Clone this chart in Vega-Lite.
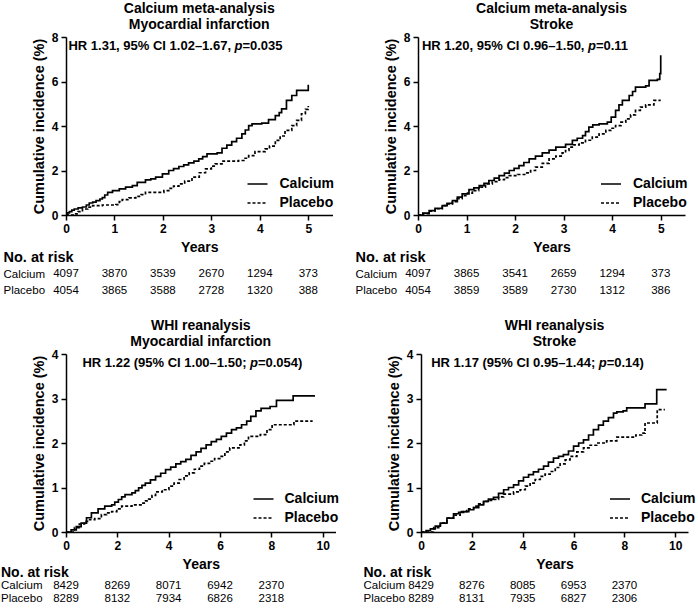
{
 "$schema": "https://vega.github.io/schema/vega-lite/v6.json",
 "background": "white",
 "padding": {"left": 0, "top": 2, "right": 0, "bottom": 0},
 "config": {
  "font": "Liberation Sans",
  "view": {"stroke": null},
  "text": {"color": "black", "font": "Liberation Sans"},
  "axis": {"domainColor": "black", "domainWidth": 1.5, "tickColor": "black", "tickWidth": 1.5, "tickSize": 5, "labelFontSize": 12, "labelFontWeight": "bold", "labelColor": "black", "labelPadding": 3, "titleFontSize": 14, "titleFontWeight": "bold", "titleColor": "black", "grid": false, "labelFont": "Liberation Sans", "titleFont": "Liberation Sans"},
  "axisY": {"titleFontSize": 14.5, "titlePadding": 5},
  "axisX": {"titlePadding": 6, "labelFlush": false},
  "title": {"fontSize": 14, "fontWeight": "bold", "lineHeight": 16, "offset": -1, "anchor": "middle", "frame": "group", "color": "black", "font": "Liberation Sans"},
  "legend": {"symbolType": "stroke", "symbolSize": 400, "symbolStrokeWidth": 1.7, "symbolStrokeColor": "black", "labelFontSize": 14, "labelFontWeight": "bold", "labelColor": "black", "rowPadding": 1, "labelFont": "Liberation Sans"}
 },
 "datasets": {
  "c1": [
   {"group":"Calcium","year":0,"value":0},{"group":"Calcium","year":0.03,"value":0.1},{"group":"Calcium","year":0.07,"value":0.15},{"group":"Calcium","year":0.12,"value":0.22},{"group":"Calcium","year":0.17,"value":0.27},{"group":"Calcium","year":0.25,"value":0.32},{"group":"Calcium","year":0.34,"value":0.36},{"group":"Calcium","year":0.42,"value":0.45},{"group":"Calcium","year":0.48,"value":0.54},{"group":"Calcium","year":0.55,"value":0.58},{"group":"Calcium","year":0.62,"value":0.65},{"group":"Calcium","year":0.7,"value":0.72},{"group":"Calcium","year":0.75,"value":0.78},{"group":"Calcium","year":0.8,"value":0.9},{"group":"Calcium","year":0.86,"value":1.02},{"group":"Calcium","year":0.96,"value":1.1},{"group":"Calcium","year":1.1,"value":1.17},{"group":"Calcium","year":1.23,"value":1.25},{"group":"Calcium","year":1.37,"value":1.32},{"group":"Calcium","year":1.47,"value":1.47},{"group":"Calcium","year":1.64,"value":1.58},{"group":"Calcium","year":1.75,"value":1.62},{"group":"Calcium","year":1.85,"value":1.7},{"group":"Calcium","year":1.99,"value":1.85},{"group":"Calcium","year":2.12,"value":2.0},{"group":"Calcium","year":2.22,"value":2.08},{"group":"Calcium","year":2.33,"value":2.18},{"group":"Calcium","year":2.43,"value":2.25},{"group":"Calcium","year":2.53,"value":2.34},{"group":"Calcium","year":2.64,"value":2.42},{"group":"Calcium","year":2.74,"value":2.52},{"group":"Calcium","year":2.82,"value":2.62},{"group":"Calcium","year":2.91,"value":2.75},{"group":"Calcium","year":3.12,"value":2.79},{"group":"Calcium","year":3.22,"value":3.0},{"group":"Calcium","year":3.32,"value":3.14},{"group":"Calcium","year":3.42,"value":3.3},{"group":"Calcium","year":3.52,"value":3.45},{"group":"Calcium","year":3.63,"value":3.65},{"group":"Calcium","year":3.7,"value":3.82},{"group":"Calcium","year":3.77,"value":4.02},{"group":"Calcium","year":3.84,"value":4.1},{"group":"Calcium","year":4.04,"value":4.13},{"group":"Calcium","year":4.18,"value":4.29},{"group":"Calcium","year":4.32,"value":4.47},{"group":"Calcium","year":4.4,"value":4.6},{"group":"Calcium","year":4.45,"value":4.77},{"group":"Calcium","year":4.55,"value":5.15},{"group":"Calcium","year":4.66,"value":5.37},{"group":"Calcium","year":4.76,"value":5.6},{"group":"Calcium","year":5.0,"value":5.85},
   {"group":"Placebo","year":0,"value":0},{"group":"Placebo","year":0.17,"value":0.05},{"group":"Placebo","year":0.25,"value":0.15},{"group":"Placebo","year":0.34,"value":0.27},{"group":"Placebo","year":0.45,"value":0.35},{"group":"Placebo","year":0.55,"value":0.42},{"group":"Placebo","year":0.75,"value":0.45},{"group":"Placebo","year":1.03,"value":0.47},{"group":"Placebo","year":1.1,"value":0.6},{"group":"Placebo","year":1.16,"value":0.69},{"group":"Placebo","year":1.3,"value":0.77},{"group":"Placebo","year":1.44,"value":0.84},{"group":"Placebo","year":1.55,"value":0.92},{"group":"Placebo","year":1.64,"value":1.02},{"group":"Placebo","year":1.92,"value":1.02},{"group":"Placebo","year":2.02,"value":1.1},{"group":"Placebo","year":2.12,"value":1.2},{"group":"Placebo","year":2.22,"value":1.3},{"group":"Placebo","year":2.33,"value":1.4},{"group":"Placebo","year":2.45,"value":1.52},{"group":"Placebo","year":2.6,"value":1.7},{"group":"Placebo","year":2.75,"value":1.9},{"group":"Placebo","year":2.88,"value":2.07},{"group":"Placebo","year":3.0,"value":2.2},{"group":"Placebo","year":3.08,"value":2.3},{"group":"Placebo","year":3.22,"value":2.42},{"group":"Placebo","year":3.56,"value":2.45},{"group":"Placebo","year":3.67,"value":2.55},{"group":"Placebo","year":3.77,"value":2.67},{"group":"Placebo","year":3.9,"value":2.85},{"group":"Placebo","year":4.11,"value":2.97},{"group":"Placebo","year":4.2,"value":3.1},{"group":"Placebo","year":4.32,"value":3.35},{"group":"Placebo","year":4.42,"value":3.55},{"group":"Placebo","year":4.52,"value":3.8},{"group":"Placebo","year":4.66,"value":4.02},{"group":"Placebo","year":4.76,"value":4.25},{"group":"Placebo","year":4.86,"value":4.55},{"group":"Placebo","year":4.94,"value":4.75},{"group":"Placebo","year":5.0,"value":4.9}
  ],
  "c2": [
   {"group":"Calcium","year":0,"value":0},{"group":"Calcium","year":0.1,"value":0.08},{"group":"Calcium","year":0.23,"value":0.2},{"group":"Calcium","year":0.35,"value":0.3},{"group":"Calcium","year":0.5,"value":0.42},{"group":"Calcium","year":0.6,"value":0.52},{"group":"Calcium","year":0.71,"value":0.65},{"group":"Calcium","year":0.81,"value":0.8},{"group":"Calcium","year":0.91,"value":0.95},{"group":"Calcium","year":1.05,"value":1.14},{"group":"Calcium","year":1.15,"value":1.22},{"group":"Calcium","year":1.26,"value":1.32},{"group":"Calcium","year":1.36,"value":1.42},{"group":"Calcium","year":1.46,"value":1.55},{"group":"Calcium","year":1.57,"value":1.66},{"group":"Calcium","year":1.67,"value":1.77},{"group":"Calcium","year":1.78,"value":1.88},{"group":"Calcium","year":1.88,"value":2.0},{"group":"Calcium","year":1.98,"value":2.1},{"group":"Calcium","year":2.08,"value":2.22},{"group":"Calcium","year":2.18,"value":2.36},{"group":"Calcium","year":2.29,"value":2.52},{"group":"Calcium","year":2.42,"value":2.65},{"group":"Calcium","year":2.56,"value":2.79},{"group":"Calcium","year":2.7,"value":2.92},{"group":"Calcium","year":2.84,"value":3.05},{"group":"Calcium","year":3.04,"value":3.17},{"group":"Calcium","year":3.18,"value":3.35},{"group":"Calcium","year":3.28,"value":3.45},{"group":"Calcium","year":3.39,"value":3.57},{"group":"Calcium","year":3.45,"value":3.75},{"group":"Calcium","year":3.52,"value":3.95},{"group":"Calcium","year":3.6,"value":4.05},{"group":"Calcium","year":3.73,"value":4.1},{"group":"Calcium","year":3.9,"value":4.17},{"group":"Calcium","year":3.98,"value":4.4},{"group":"Calcium","year":4.07,"value":4.7},{"group":"Calcium","year":4.14,"value":4.95},{"group":"Calcium","year":4.21,"value":5.15},{"group":"Calcium","year":4.35,"value":5.37},{"group":"Calcium","year":4.42,"value":5.55},{"group":"Calcium","year":4.48,"value":5.75},{"group":"Calcium","year":4.69,"value":5.8},{"group":"Calcium","year":4.76,"value":6.05},{"group":"Calcium","year":4.93,"value":6.1},{"group":"Calcium","year":4.98,"value":6.35},{"group":"Calcium","year":5.0,"value":7.18},
   {"group":"Placebo","year":0,"value":0},{"group":"Placebo","year":0.1,"value":0.06},{"group":"Placebo","year":0.23,"value":0.17},{"group":"Placebo","year":0.35,"value":0.28},{"group":"Placebo","year":0.5,"value":0.42},{"group":"Placebo","year":0.6,"value":0.5},{"group":"Placebo","year":0.71,"value":0.6},{"group":"Placebo","year":0.81,"value":0.73},{"group":"Placebo","year":0.91,"value":0.87},{"group":"Placebo","year":1.02,"value":0.98},{"group":"Placebo","year":1.12,"value":1.1},{"group":"Placebo","year":1.25,"value":1.25},{"group":"Placebo","year":1.39,"value":1.4},{"group":"Placebo","year":1.53,"value":1.5},{"group":"Placebo","year":1.67,"value":1.59},{"group":"Placebo","year":1.78,"value":1.68},{"group":"Placebo","year":1.88,"value":1.77},{"group":"Placebo","year":2.05,"value":1.82},{"group":"Placebo","year":2.22,"value":1.89},{"group":"Placebo","year":2.32,"value":2.0},{"group":"Placebo","year":2.42,"value":2.15},{"group":"Placebo","year":2.56,"value":2.32},{"group":"Placebo","year":2.7,"value":2.52},{"group":"Placebo","year":2.84,"value":2.65},{"group":"Placebo","year":2.97,"value":2.79},{"group":"Placebo","year":3.04,"value":2.9},{"group":"Placebo","year":3.11,"value":3.05},{"group":"Placebo","year":3.2,"value":3.15},{"group":"Placebo","year":3.32,"value":3.24},{"group":"Placebo","year":3.45,"value":3.36},{"group":"Placebo","year":3.59,"value":3.5},{"group":"Placebo","year":3.73,"value":3.65},{"group":"Placebo","year":3.87,"value":3.8},{"group":"Placebo","year":3.97,"value":3.9},{"group":"Placebo","year":4.07,"value":4.02},{"group":"Placebo","year":4.18,"value":4.17},{"group":"Placebo","year":4.28,"value":4.32},{"group":"Placebo","year":4.38,"value":4.5},{"group":"Placebo","year":4.48,"value":4.7},{"group":"Placebo","year":4.58,"value":4.85},{"group":"Placebo","year":4.69,"value":4.95},{"group":"Placebo","year":4.86,"value":5.15},{"group":"Placebo","year":5.0,"value":5.15}
  ],
  "c3": [
   {"group":"Calcium","year":0,"value":0},{"group":"Calcium","year":0.2,"value":0.05},{"group":"Calcium","year":0.4,"value":0.12},{"group":"Calcium","year":0.59,"value":0.2},{"group":"Calcium","year":0.8,"value":0.32},{"group":"Calcium","year":0.99,"value":0.43},{"group":"Calcium","year":1.25,"value":0.52},{"group":"Calcium","year":1.51,"value":0.58},{"group":"Calcium","year":1.78,"value":0.61},{"group":"Calcium","year":1.9,"value":0.67},{"group":"Calcium","year":2.04,"value":0.73},{"group":"Calcium","year":2.17,"value":0.79},{"group":"Calcium","year":2.3,"value":0.84},{"group":"Calcium","year":2.57,"value":0.88},{"group":"Calcium","year":2.7,"value":0.93},{"group":"Calcium","year":2.83,"value":0.99},{"group":"Calcium","year":2.96,"value":1.05},{"group":"Calcium","year":3.09,"value":1.1},{"group":"Calcium","year":3.29,"value":1.17},{"group":"Calcium","year":3.49,"value":1.25},{"group":"Calcium","year":3.69,"value":1.32},{"group":"Calcium","year":3.88,"value":1.4},{"group":"Calcium","year":4.08,"value":1.46},{"group":"Calcium","year":4.28,"value":1.53},{"group":"Calcium","year":4.47,"value":1.58},{"group":"Calcium","year":4.67,"value":1.63},{"group":"Calcium","year":4.87,"value":1.72},{"group":"Calcium","year":5.07,"value":1.8},{"group":"Calcium","year":5.26,"value":1.88},{"group":"Calcium","year":5.46,"value":1.96},{"group":"Calcium","year":5.66,"value":2.03},{"group":"Calcium","year":5.86,"value":2.08},{"group":"Calcium","year":6.05,"value":2.15},{"group":"Calcium","year":6.25,"value":2.22},{"group":"Calcium","year":6.45,"value":2.3},{"group":"Calcium","year":6.64,"value":2.34},{"group":"Calcium","year":6.84,"value":2.41},{"group":"Calcium","year":7.04,"value":2.49},{"group":"Calcium","year":7.2,"value":2.6},{"group":"Calcium","year":7.4,"value":2.72},{"group":"Calcium","year":7.6,"value":2.78},{"group":"Calcium","year":7.95,"value":2.82},{"group":"Calcium","year":8.2,"value":2.96},{"group":"Calcium","year":8.85,"value":3.06},{"group":"Calcium","year":9.7,"value":3.06},
   {"group":"Placebo","year":0,"value":0},{"group":"Placebo","year":0.33,"value":0.1},{"group":"Placebo","year":0.52,"value":0.18},{"group":"Placebo","year":0.72,"value":0.24},{"group":"Placebo","year":0.92,"value":0.28},{"group":"Placebo","year":1.12,"value":0.3},{"group":"Placebo","year":1.38,"value":0.39},{"group":"Placebo","year":1.58,"value":0.43},{"group":"Placebo","year":1.78,"value":0.46},{"group":"Placebo","year":1.98,"value":0.52},{"group":"Placebo","year":2.17,"value":0.58},{"group":"Placebo","year":2.57,"value":0.61},{"group":"Placebo","year":2.96,"value":0.65},{"group":"Placebo","year":3.1,"value":0.7},{"group":"Placebo","year":3.22,"value":0.74},{"group":"Placebo","year":3.35,"value":0.82},{"group":"Placebo","year":3.49,"value":0.9},{"group":"Placebo","year":3.75,"value":0.95},{"group":"Placebo","year":4.01,"value":1.03},{"group":"Placebo","year":4.21,"value":1.1},{"group":"Placebo","year":4.41,"value":1.18},{"group":"Placebo","year":4.6,"value":1.26},{"group":"Placebo","year":4.8,"value":1.33},{"group":"Placebo","year":5.0,"value":1.41},{"group":"Placebo","year":5.2,"value":1.48},{"group":"Placebo","year":5.39,"value":1.54},{"group":"Placebo","year":5.59,"value":1.59},{"group":"Placebo","year":5.79,"value":1.65},{"group":"Placebo","year":5.99,"value":1.7},{"group":"Placebo","year":6.19,"value":1.8},{"group":"Placebo","year":6.38,"value":1.89},{"group":"Placebo","year":6.78,"value":1.96},{"group":"Placebo","year":6.95,"value":2.05},{"group":"Placebo","year":7.11,"value":2.15},{"group":"Placebo","year":7.57,"value":2.19},{"group":"Placebo","year":7.83,"value":2.3},{"group":"Placebo","year":8.03,"value":2.41},{"group":"Placebo","year":8.75,"value":2.41},{"group":"Placebo","year":8.88,"value":2.49},{"group":"Placebo","year":9.61,"value":2.49}
  ],
  "c4": [
   {"group":"Calcium","year":0,"value":0},{"group":"Calcium","year":0.2,"value":0.03},{"group":"Calcium","year":0.37,"value":0.07},{"group":"Calcium","year":0.56,"value":0.13},{"group":"Calcium","year":0.76,"value":0.2},{"group":"Calcium","year":1.02,"value":0.31},{"group":"Calcium","year":1.28,"value":0.41},{"group":"Calcium","year":1.48,"value":0.44},{"group":"Calcium","year":1.68,"value":0.46},{"group":"Calcium","year":1.88,"value":0.5},{"group":"Calcium","year":2.07,"value":0.55},{"group":"Calcium","year":2.27,"value":0.61},{"group":"Calcium","year":2.46,"value":0.69},{"group":"Calcium","year":2.65,"value":0.74},{"group":"Calcium","year":2.85,"value":0.78},{"group":"Calcium","year":3.05,"value":0.87},{"group":"Calcium","year":3.25,"value":0.95},{"group":"Calcium","year":3.44,"value":1.0},{"group":"Calcium","year":3.64,"value":1.06},{"group":"Calcium","year":3.84,"value":1.15},{"group":"Calcium","year":4.03,"value":1.23},{"group":"Calcium","year":4.23,"value":1.29},{"group":"Calcium","year":4.42,"value":1.35},{"group":"Calcium","year":4.62,"value":1.41},{"group":"Calcium","year":4.82,"value":1.48},{"group":"Calcium","year":5.01,"value":1.57},{"group":"Calcium","year":5.21,"value":1.66},{"group":"Calcium","year":5.41,"value":1.7},{"group":"Calcium","year":5.6,"value":1.74},{"group":"Calcium","year":5.8,"value":1.82},{"group":"Calcium","year":6.0,"value":1.93},{"group":"Calcium","year":6.2,"value":2.0},{"group":"Calcium","year":6.39,"value":2.07},{"group":"Calcium","year":6.59,"value":2.18},{"group":"Calcium","year":6.78,"value":2.3},{"group":"Calcium","year":6.98,"value":2.4},{"group":"Calcium","year":7.17,"value":2.49},{"group":"Calcium","year":7.37,"value":2.57},{"group":"Calcium","year":7.57,"value":2.67},{"group":"Calcium","year":7.7,"value":2.7},{"group":"Calcium","year":7.95,"value":2.72},{"group":"Calcium","year":8.09,"value":2.79},{"group":"Calcium","year":8.74,"value":2.79},{"group":"Calcium","year":8.81,"value":2.88},{"group":"Calcium","year":9.24,"value":2.88},{"group":"Calcium","year":9.27,"value":3.2},{"group":"Calcium","year":9.66,"value":3.2},
   {"group":"Placebo","year":0,"value":0},{"group":"Placebo","year":0.5,"value":0.1},{"group":"Placebo","year":0.76,"value":0.2},{"group":"Placebo","year":1.02,"value":0.31},{"group":"Placebo","year":1.28,"value":0.38},{"group":"Placebo","year":1.54,"value":0.46},{"group":"Placebo","year":1.8,"value":0.52},{"group":"Placebo","year":2.07,"value":0.58},{"group":"Placebo","year":2.27,"value":0.63},{"group":"Placebo","year":2.46,"value":0.69},{"group":"Placebo","year":2.65,"value":0.71},{"group":"Placebo","year":2.85,"value":0.73},{"group":"Placebo","year":3.05,"value":0.79},{"group":"Placebo","year":3.25,"value":0.85},{"group":"Placebo","year":3.64,"value":0.9},{"group":"Placebo","year":3.9,"value":0.95},{"group":"Placebo","year":4.1,"value":1.03},{"group":"Placebo","year":4.29,"value":1.1},{"group":"Placebo","year":4.49,"value":1.18},{"group":"Placebo","year":4.69,"value":1.25},{"group":"Placebo","year":4.88,"value":1.3},{"group":"Placebo","year":5.08,"value":1.36},{"group":"Placebo","year":5.28,"value":1.45},{"group":"Placebo","year":5.47,"value":1.53},{"group":"Placebo","year":5.67,"value":1.62},{"group":"Placebo","year":5.86,"value":1.7},{"group":"Placebo","year":6.13,"value":1.8},{"group":"Placebo","year":6.39,"value":1.89},{"group":"Placebo","year":6.65,"value":1.95},{"group":"Placebo","year":6.91,"value":2.0},{"group":"Placebo","year":7.3,"value":2.05},{"group":"Placebo","year":7.7,"value":2.13},{"group":"Placebo","year":8.22,"value":2.13},{"group":"Placebo","year":8.45,"value":2.18},{"group":"Placebo","year":8.68,"value":2.22},{"group":"Placebo","year":8.81,"value":2.45},{"group":"Placebo","year":9.24,"value":2.45},{"group":"Placebo","year":9.29,"value":2.75},{"group":"Placebo","year":9.59,"value":2.75}
  ],
  "r1": [
   {"group":"Calcium","year":0,"n":"4097"},{"group":"Calcium","year":1,"n":"3870"},{"group":"Calcium","year":2,"n":"3539"},{"group":"Calcium","year":3,"n":"2670"},{"group":"Calcium","year":4,"n":"1294"},{"group":"Calcium","year":5,"n":"373"},
   {"group":"Placebo","year":0,"n":"4054"},{"group":"Placebo","year":1,"n":"3865"},{"group":"Placebo","year":2,"n":"3588"},{"group":"Placebo","year":3,"n":"2728"},{"group":"Placebo","year":4,"n":"1320"},{"group":"Placebo","year":5,"n":"388"}
  ],
  "r2": [
   {"group":"Calcium","year":0,"n":"4097"},{"group":"Calcium","year":1,"n":"3865"},{"group":"Calcium","year":2,"n":"3541"},{"group":"Calcium","year":3,"n":"2659"},{"group":"Calcium","year":4,"n":"1294"},{"group":"Calcium","year":5,"n":"373"},
   {"group":"Placebo","year":0,"n":"4054"},{"group":"Placebo","year":1,"n":"3859"},{"group":"Placebo","year":2,"n":"3589"},{"group":"Placebo","year":3,"n":"2730"},{"group":"Placebo","year":4,"n":"1312"},{"group":"Placebo","year":5,"n":"386"}
  ],
  "r3": [
   {"group":"Calcium","year":0,"n":"8429"},{"group":"Calcium","year":2,"n":"8269"},{"group":"Calcium","year":4,"n":"8071"},{"group":"Calcium","year":6,"n":"6942"},{"group":"Calcium","year":8,"n":"2370"},
   {"group":"Placebo","year":0,"n":"8289"},{"group":"Placebo","year":2,"n":"8132"},{"group":"Placebo","year":4,"n":"7934"},{"group":"Placebo","year":6,"n":"6826"},{"group":"Placebo","year":8,"n":"2318"}
  ],
  "r4": [
   {"group":"Calcium","year":0,"n":"8429"},{"group":"Calcium","year":2,"n":"8276"},{"group":"Calcium","year":4,"n":"8085"},{"group":"Calcium","year":6,"n":"6953"},{"group":"Calcium","year":8,"n":"2370"},
   {"group":"Placebo","year":0,"n":"8289"},{"group":"Placebo","year":2,"n":"8131"},{"group":"Placebo","year":4,"n":"7935"},{"group":"Placebo","year":6,"n":"6827"},{"group":"Placebo","year":8,"n":"2306"}
  ]
 },
 "resolve": {"scale": {"strokeDash": "independent"}, "legend": {"strokeDash": "independent"}},
 "spacing": 20,
 "vconcat": [
  {
   "spacing": 20,
   "resolve": {"scale": {"strokeDash": "independent"}, "legend": {"strokeDash": "independent"}},
   "hconcat": [
    {
     "bounds": "flush", "spacing": 34,
     "resolve": {"scale": {"strokeDash": "independent"}, "legend": {"strokeDash": "independent"}},
     "vconcat": [
      {
       "width": 266.5, "height": 178,
       "title": {"text": ["Calcium meta-analysis", "Myocardial infarction"]},
       "layer": [
        {"data": {"name": "c1"}, "mark": {"type": "line", "interpolate": "step-after", "color": "black", "strokeWidth": 1.7},
         "encoding": {
          "x": {"field": "year", "type": "quantitative", "scale": {"domain": [0, 5.5], "nice": false}, "axis": {"values": [0,1,2,3,4,5], "title": "Years"}},
          "y": {"field": "value", "type": "quantitative", "scale": {"domain": [0, 8], "nice": false}, "axis": {"values": [0,2,4,6,8], "title": "Cumulative incidence (%)"}},
          "strokeDash": {"field": "group", "type": "nominal", "scale": {"domain": ["Calcium","Placebo"], "range": [[1,0],[3,2]]}, "legend": {"title": null, "orient": "none", "legendX": 180.5, "legendY": 136, "labelOffset": 11}}
         }},
        {"data": {"values": [{"year": 0.05, "value": 7.6, "label": "HR 1.31, 95% CI 1.02–1.67,"}]}, "mark": {"type": "text", "align": "left", "fontSize": 13, "fontWeight": "bold"},
         "encoding": {"x": {"field": "year", "type": "quantitative"}, "y": {"field": "value", "type": "quantitative"}, "text": {"field": "label"}}},
        {"data": {"values": [{"year": 0.05, "value": 7.6, "label": "p"}]}, "mark": {"type": "text", "align": "left", "dx": 166, "fontSize": 13, "fontWeight": "bold", "fontStyle": "italic"},
         "encoding": {"x": {"field": "year", "type": "quantitative"}, "y": {"field": "value", "type": "quantitative"}, "text": {"field": "label"}}},
        {"data": {"values": [{"year": 0.05, "value": 7.6, "label": "=0.035"}]}, "mark": {"type": "text", "align": "left", "dx": 174, "fontSize": 13, "fontWeight": "bold"},
         "encoding": {"x": {"field": "year", "type": "quantitative"}, "y": {"field": "value", "type": "quantitative"}, "text": {"field": "label"}}}
       ]
      },
      {
       "width": 266.5, "height": 50,
       "data": {"name": "r1"},
       "mark": {"type": "text", "fontSize": 11.5},
       "encoding": {
        "x": {"field": "year", "type": "quantitative", "scale": {"domain": [0, 5.5], "nice": false}, "axis": null},
        "y": {"field": "group", "type": "ordinal", "scale": {"type": "point", "domain": ["No. at risk","Calcium","Placebo"], "padding": 0.5},
              "axis": {"title": null, "domain": false, "ticks": false, "tickSize": 0, "labelAlign": "left", "labelPadding": 63,
                       "labelFontWeight": {"condition": {"test": "datum.value === 'No. at risk'", "value": "bold"}, "value": "normal"},
                       "labelFontSize": {"condition": {"test": "datum.value === 'No. at risk'", "value": 14.5}, "value": 11.5}}},
        "text": {"field": "n", "type": "nominal"}
       }
      }
     ]
    },
    {
     "bounds": "flush", "spacing": 34,
     "resolve": {"scale": {"strokeDash": "independent"}, "legend": {"strokeDash": "independent"}},
     "vconcat": [
      {
       "width": 267, "height": 178,
       "title": {"text": ["Calcium meta-analysis", "Stroke"]},
       "layer": [
        {"data": {"name": "c2"}, "mark": {"type": "line", "interpolate": "step-after", "color": "black", "strokeWidth": 1.7},
         "encoding": {
          "x": {"field": "year", "type": "quantitative", "scale": {"domain": [0, 5.5], "nice": false}, "axis": {"values": [0,1,2,3,4,5], "title": "Years"}},
          "y": {"field": "value", "type": "quantitative", "scale": {"domain": [0, 8], "nice": false}, "axis": {"values": [0,2,4,6,8], "title": "Cumulative incidence (%)"}},
          "strokeDash": {"field": "group", "type": "nominal", "scale": {"domain": ["Calcium","Placebo"], "range": [[1,0],[3,2]]}, "legend": {"title": null, "orient": "none", "legendX": 182, "legendY": 136, "labelOffset": 11}}
         }},
        {"data": {"values": [{"year": 0.08, "value": 7.6, "label": "HR 1.20, 95% CI 0.96–1.50,"}]}, "mark": {"type": "text", "align": "left", "fontSize": 13, "fontWeight": "bold"},
         "encoding": {"x": {"field": "year", "type": "quantitative"}, "y": {"field": "value", "type": "quantitative"}, "text": {"field": "label"}}},
        {"data": {"values": [{"year": 0.08, "value": 7.6, "label": "p"}]}, "mark": {"type": "text", "align": "left", "dx": 166, "fontSize": 13, "fontWeight": "bold", "fontStyle": "italic"},
         "encoding": {"x": {"field": "year", "type": "quantitative"}, "y": {"field": "value", "type": "quantitative"}, "text": {"field": "label"}}},
        {"data": {"values": [{"year": 0.08, "value": 7.6, "label": "=0.11"}]}, "mark": {"type": "text", "align": "left", "dx": 174, "fontSize": 13, "fontWeight": "bold"},
         "encoding": {"x": {"field": "year", "type": "quantitative"}, "y": {"field": "value", "type": "quantitative"}, "text": {"field": "label"}}}
       ]
      },
      {
       "width": 267, "height": 50,
       "data": {"name": "r2"},
       "mark": {"type": "text", "fontSize": 11.5},
       "encoding": {
        "x": {"field": "year", "type": "quantitative", "scale": {"domain": [0, 5.5], "nice": false}, "axis": null},
        "y": {"field": "group", "type": "ordinal", "scale": {"type": "point", "domain": ["No. at risk","Calcium","Placebo"], "padding": 0.5},
              "axis": {"title": null, "domain": false, "ticks": false, "tickSize": 0, "labelAlign": "left", "labelPadding": 63,
                       "labelFontWeight": {"condition": {"test": "datum.value === 'No. at risk'", "value": "bold"}, "value": "normal"},
                       "labelFontSize": {"condition": {"test": "datum.value === 'No. at risk'", "value": 14.5}, "value": 11.5}}},
        "text": {"field": "n", "type": "nominal"}
       }
      }
     ]
    }
   ]
  },
  {
   "spacing": 23,
   "resolve": {"scale": {"strokeDash": "independent"}, "legend": {"strokeDash": "independent"}},
   "hconcat": [
    {
     "bounds": "flush", "spacing": 34,
     "resolve": {"scale": {"strokeDash": "independent"}, "legend": {"strokeDash": "independent"}},
     "vconcat": [
      {
       "width": 269.5, "height": 178,
       "title": {"text": ["WHI reanalysis", "Myocardial infarction"]},
       "layer": [
        {"data": {"name": "c3"}, "mark": {"type": "line", "interpolate": "step-after", "color": "black", "strokeWidth": 1.7},
         "encoding": {
          "x": {"field": "year", "type": "quantitative", "scale": {"domain": [0, 10.5], "nice": false}, "axis": {"values": [0,1,2,3,4,5,6,7,8,9,10], "title": "Years"}},
          "y": {"field": "value", "type": "quantitative", "scale": {"domain": [0, 4], "nice": false}, "axis": {"values": [0,1,2,3,4], "title": "Cumulative incidence (%)"}},
          "strokeDash": {"field": "group", "type": "nominal", "scale": {"domain": ["Calcium","Placebo"], "range": [[1,0],[3,2]]}, "legend": {"title": null, "orient": "none", "legendX": 186.5, "legendY": 134, "labelOffset": 10}}
         }},
        {"data": {"values": [{"year": 0.64, "value": 3.8, "label": "HR 1.22 (95% CI 1.00–1.50;"}]}, "mark": {"type": "text", "align": "left", "fontSize": 13, "fontWeight": "bold"},
         "encoding": {"x": {"field": "year", "type": "quantitative"}, "y": {"field": "value", "type": "quantitative"}, "text": {"field": "label"}}},
        {"data": {"values": [{"year": 0.64, "value": 3.8, "label": "p"}]}, "mark": {"type": "text", "align": "left", "dx": 167.5, "fontSize": 13, "fontWeight": "bold", "fontStyle": "italic"},
         "encoding": {"x": {"field": "year", "type": "quantitative"}, "y": {"field": "value", "type": "quantitative"}, "text": {"field": "label"}}},
        {"data": {"values": [{"year": 0.64, "value": 3.8, "label": "=0.054)"}]}, "mark": {"type": "text", "align": "left", "dx": 175.5, "fontSize": 13, "fontWeight": "bold"},
         "encoding": {"x": {"field": "year", "type": "quantitative"}, "y": {"field": "value", "type": "quantitative"}, "text": {"field": "label"}}}
       ]
      },
      {
       "width": 269.5, "height": 39,
       "data": {"name": "r3"},
       "mark": {"type": "text", "fontSize": 11.5},
       "encoding": {
        "x": {"field": "year", "type": "quantitative", "scale": {"domain": [0, 10.5], "nice": false}, "axis": null},
        "y": {"field": "group", "type": "ordinal", "scale": {"type": "point", "domain": ["No. at risk","Calcium","Placebo"], "padding": 0.5},
              "axis": {"title": null, "domain": false, "ticks": false, "tickSize": 0, "labelAlign": "left", "labelPadding": 65.5,
                       "labelFontWeight": {"condition": {"test": "datum.value === 'No. at risk'", "value": "bold"}, "value": "normal"},
                       "labelFontSize": {"condition": {"test": "datum.value === 'No. at risk'", "value": 14}, "value": 11.5}}},
        "text": {"field": "n", "type": "nominal"}
       }
      }
     ]
    },
    {
     "bounds": "flush", "spacing": 34,
     "resolve": {"scale": {"strokeDash": "independent"}, "legend": {"strokeDash": "independent"}},
     "vconcat": [
      {
       "width": 267, "height": 178,
       "title": {"text": ["WHI reanalysis", "Stroke"]},
       "layer": [
        {"data": {"name": "c4"}, "mark": {"type": "line", "interpolate": "step-after", "color": "black", "strokeWidth": 1.7},
         "encoding": {
          "x": {"field": "year", "type": "quantitative", "scale": {"domain": [0, 10.5], "nice": false}, "axis": {"values": [0,1,2,3,4,5,6,7,8,9,10], "title": "Years"}},
          "y": {"field": "value", "type": "quantitative", "scale": {"domain": [0, 4], "nice": false}, "axis": {"values": [0,1,2,3,4], "title": "Cumulative incidence (%)"}},
          "strokeDash": {"field": "group", "type": "nominal", "scale": {"domain": ["Calcium","Placebo"], "range": [[1,0],[3,2]]}, "legend": {"title": null, "orient": "none", "legendX": 188, "legendY": 134, "labelOffset": 10}}
         }},
        {"data": {"values": [{"year": 0.4, "value": 3.8, "label": "HR 1.17 (95% CI 0.95–1.44;"}]}, "mark": {"type": "text", "align": "left", "fontSize": 13, "fontWeight": "bold"},
         "encoding": {"x": {"field": "year", "type": "quantitative"}, "y": {"field": "value", "type": "quantitative"}, "text": {"field": "label"}}},
        {"data": {"values": [{"year": 0.4, "value": 3.8, "label": "p"}]}, "mark": {"type": "text", "align": "left", "dx": 167.5, "fontSize": 13, "fontWeight": "bold", "fontStyle": "italic"},
         "encoding": {"x": {"field": "year", "type": "quantitative"}, "y": {"field": "value", "type": "quantitative"}, "text": {"field": "label"}}},
        {"data": {"values": [{"year": 0.4, "value": 3.8, "label": "=0.14)"}]}, "mark": {"type": "text", "align": "left", "dx": 175.5, "fontSize": 13, "fontWeight": "bold"},
         "encoding": {"x": {"field": "year", "type": "quantitative"}, "y": {"field": "value", "type": "quantitative"}, "text": {"field": "label"}}}
       ]
      },
      {
       "width": 267, "height": 39,
       "data": {"name": "r4"},
       "mark": {"type": "text", "fontSize": 11.5},
       "encoding": {
        "x": {"field": "year", "type": "quantitative", "scale": {"domain": [0, 10.5], "nice": false}, "axis": null},
        "y": {"field": "group", "type": "ordinal", "scale": {"type": "point", "domain": ["No. at risk","Calcium","Placebo"], "padding": 0.5},
              "axis": {"title": null, "domain": false, "ticks": false, "tickSize": 0, "labelAlign": "left", "labelPadding": 58,
                       "labelFontWeight": {"condition": {"test": "datum.value === 'No. at risk'", "value": "bold"}, "value": "normal"},
                       "labelFontSize": {"condition": {"test": "datum.value === 'No. at risk'", "value": 14}, "value": 11.5}}},
        "text": {"field": "n", "type": "nominal"}
       }
      }
     ]
    }
   ]
  }
 ]
}
